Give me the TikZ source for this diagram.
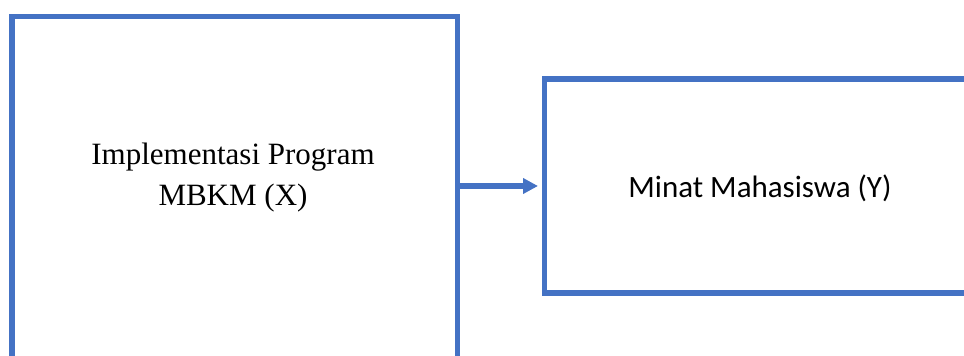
\documentclass[tikz,border=0pt]{standalone}
\usepackage{fontspec}
\setmainfont{Liberation Serif}
\newfontfamily\calibrifont{Carlito}
\usetikzlibrary{arrows.meta}
\definecolor{boxblue}{HTML}{4472C4}
\begin{document}
\begin{tikzpicture}[x=1pt,y=1pt,
  framebox/.style={draw=boxblue, line width=5.5pt, rectangle, inner sep=0pt, fill=none},
  link/.style={draw=boxblue, line width=5.5pt, -{Triangle[length=15pt,width=15pt]}},
  seriflabel/.style={font=\fontsize{31}{41}\selectfont, align=center, inner sep=0pt, anchor=base},
  sanslabel/.style={font=\calibrifont\fontsize{31}{37}\selectfont, inner sep=0pt, anchor=base}]
\useasboundingbox (0,0) rectangle (964,356);
\clip (0,0) rectangle (964,356);
\node[framebox, minimum width=445.5pt, minimum height=379.5pt] (left) at (234.75,149.75) {};
\node[framebox, minimum width=431pt, minimum height=214pt] (right) at (760,170) {};
\node[seriflabel] (ltext1) at (233,191) {Implementasi Program};
\node[seriflabel] (ltext2) at (233,150) {MBKM (X)};
\node[sanslabel] (rtext) at (760,158) {Minat Mahasiswa (Y)};
\coordinate (tip) at (538,170);
\draw[link] (tip -| left.east) -- (tip);
\end{tikzpicture}
\end{document}
